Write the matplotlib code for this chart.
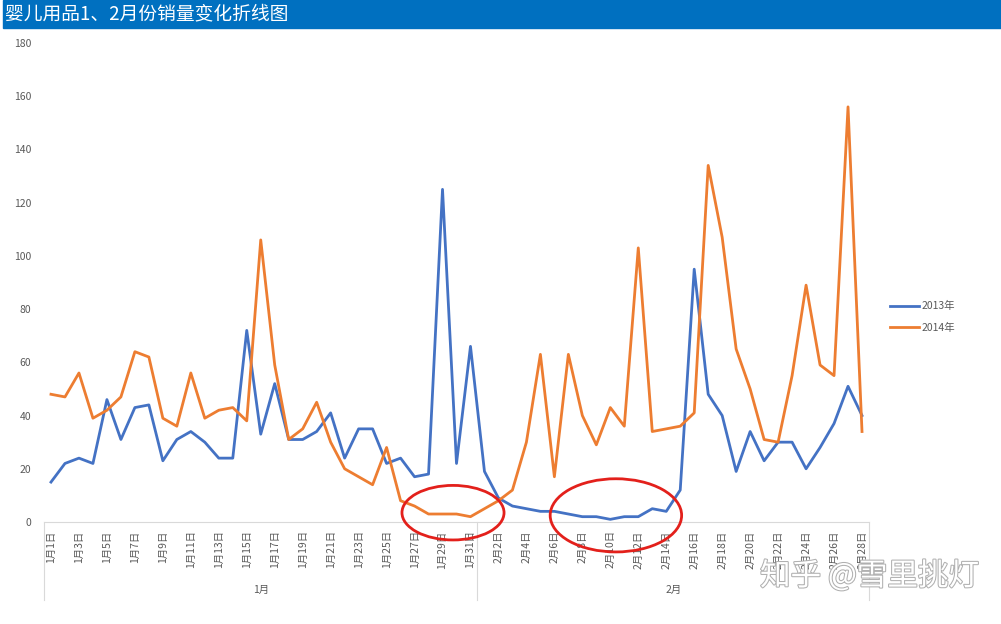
import matplotlib
matplotlib.use("Agg")
import matplotlib.pyplot as plt
import matplotlib.patheffects as pe
from matplotlib.patches import Ellipse, Rectangle

plt.rcParams['font.family'] = ['Noto Sans CJK SC', 'DejaVu Sans']

# 数据
days = [f"1月{d}日" for d in range(1, 32)] + [f"2月{d}日" for d in range(1, 29)]
months = ["1月", "2月"]
month_len = [31, 28]

sales_2013 = [15, 22, 24, 22, 46, 31, 43, 44, 23, 31, 34, 30, 24, 24, 72, 33, 52, 31, 31, 34,
              41, 24, 35, 35, 22, 24, 17, 18, 125, 22, 66,
              19, 9, 6, 5, 4, 4, 3, 2, 2, 1, 2, 2, 5, 4, 12, 95, 48, 40, 19, 34, 23, 30, 30,
              20, 28, 37, 51, 40]
sales_2014 = [48, 47, 56, 39, 42, 47, 64, 62, 39, 36, 56, 39, 42, 43, 38, 106, 59, 31, 35, 45,
              30, 20, 17, 14, 28, 8, 6, 3, 3, 3, 2,
              5, 8, 12, 30, 63, 17, 63, 40, 29, 43, 36, 103, 34, 35, 36, 41, 134, 107, 65, 50,
              31, 30, 55, 89, 59, 55, 156, 34]

# 标注圈 (x 中心, y 中心, 宽, 高) 以数据单位
circles = [(28.75, 3.5, 7.3, 20.5), (40.4, 2.5, 9.4, 27.5)]

W, H = 1001, 624
fig = plt.figure(figsize=(W / 100, H / 100), dpi=100)

# 标题栏
fig.patches.append(Rectangle((3 / W, 1 - 28 / H), 1, 28 / H, transform=fig.transFigure,
                             color="#0070C0", zorder=0))
fig.text(5 / W, 1 - 14 / H, "婴儿用品1、2月份销量变化折线图", color="white",
         fontsize=13.5, va="center", ha="left")

ax = fig.add_axes([44 / W, 1 - 522 / H, (869 - 44) / W, (522 - 43) / H])
x = list(range(len(days)))
ax.plot(x, sales_2013, color="#4472C4", lw=2.0, label="2013年", solid_joinstyle="round")
ax.plot(x, sales_2014, color="#ED7D31", lw=2.0, label="2014年", solid_joinstyle="round")

ax.set_xlim(-0.5, len(days) - 0.5)
ax.set_ylim(0, 180)
ax.set_yticks(range(0, 181, 20))
ax.tick_params(axis="y", length=0, pad=9, labelsize=7.5, labelcolor="#595959")
for s in ["top", "right", "left"]:
    ax.spines[s].set_visible(False)
ax.spines["bottom"].set_color("#D9D9D9")
ax.spines["bottom"].set_linewidth(0.8)

ax.set_xticks(x[::2])
ax.set_xticklabels(days[::2], rotation=90, fontsize=7.5, color="#595959")
ax.tick_params(axis="x", length=0, pad=6)

# 分组线和月份标签
bottom = -78 / 479
start = -0.5
for m, n in zip(months, month_len):
    ax.plot([start, start], [0, bottom], transform=ax.get_xaxis_transform(),
            color="#D9D9D9", lw=0.8, clip_on=False)
    ax.text(start + n / 2, -68 / 479, m, transform=ax.get_xaxis_transform(),
            ha="center", va="center", fontsize=7.5, color="#595959")
    start += n
ax.plot([start, start], [0, bottom], transform=ax.get_xaxis_transform(),
        color="#D9D9D9", lw=0.8, clip_on=False)

# 红圈
for cx, cy, w, h in circles:
    ax.add_patch(Ellipse((cx, cy), w, h, fill=False, edgecolor="#E3201B", lw=2.0,
                         clip_on=False, zorder=5))

ax.legend(loc="center left", bbox_to_anchor=(881 / W, 1 - 317 / H),
          bbox_transform=fig.transFigure, frameon=False, fontsize=7.5,
          handlelength=2.7, handletextpad=0.3, labelspacing=1.1, labelcolor="#595959")

# 水印
fig.text(760 / W, 1 - 576 / H, "知乎 @雪里挑灯", fontsize=22, color="white",
         ha="left", va="center",
         path_effects=[pe.withStroke(linewidth=1.5, foreground="#b0b0b0")])

fig.savefig("out.png", dpi=100)
